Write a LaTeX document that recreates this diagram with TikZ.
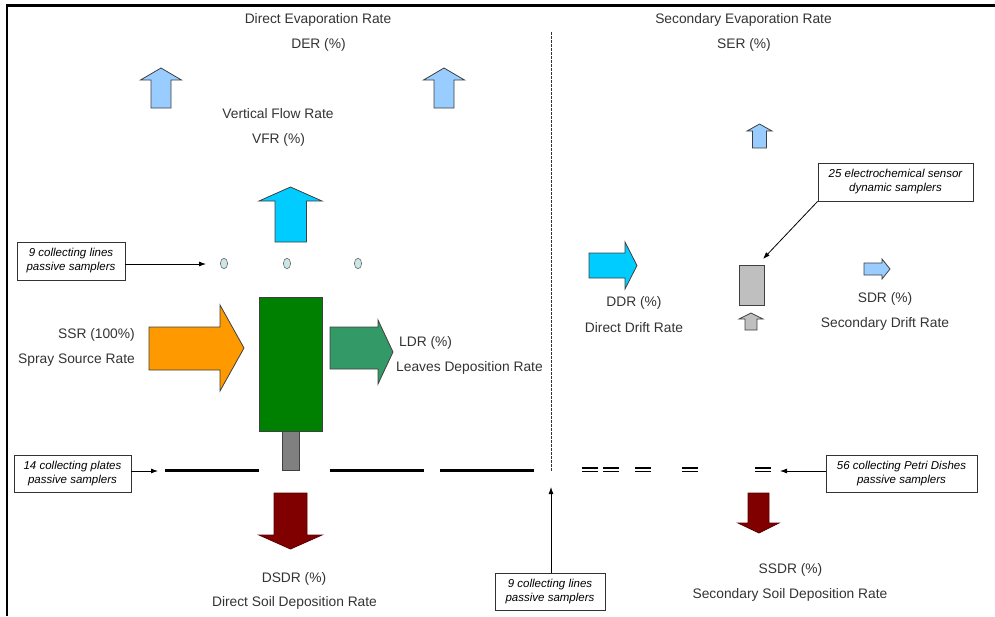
\documentclass[tikz,border=0pt]{standalone}
\usepackage{fontspec}
\setmainfont{Liberation Sans}
\usetikzlibrary{arrows.meta}
\usetikzlibrary{calc}

\definecolor{derblue}{RGB}{153,204,255}
\definecolor{vfrcyan}{RGB}{0,204,255}
\definecolor{ssrorange}{RGB}{255,153,0}
\definecolor{ldrgreen}{RGB}{51,153,102}
\definecolor{canopy}{RGB}{0,128,0}
\definecolor{soilred}{RGB}{128,0,0}
\definecolor{sampler}{RGB}{204,230,230}
\definecolor{txt}{RGB}{51,51,51}

\begin{document}
\begin{tikzpicture}[x=1pt, y=-1pt,
  flow/.style={draw=black!75, line width=0.8pt, line join=miter},
  lbl/.style={text=txt, font=\fontsize{13.8}{16}\selectfont, inner sep=0pt},
  callout/.style={draw=black!80, line width=0.8pt, fill=white, align=center,
    font=\fontsize{11.5}{14}\selectfont\itshape, inner sep=0pt},
  pointer/.style={black, line width=0.8pt, -{Latex[length=7pt,width=5pt]}}]
\useasboundingbox (0,0) rectangle (995,616);
\draw[line width=2.2pt] (6.7,616) -- (6.7,5.5) -- (995,5.5);

% titles
\node[lbl] (der-title) at (318,20) {Direct Evaporation Rate};
\node[lbl] (der) at (318.5,45) {DER (\%)};
\node[lbl] (ser-title) at (743.5,20) {Secondary Evaporation Rate};
\node[lbl] (ser) at (744,45) {SER (\%)};
\node[lbl] (vfr-title) at (278,114) {Vertical Flow Rate};
\node[lbl] (vfr) at (278.5,140) {VFR (\%)};

% evaporation arrows
\foreach \x in {161,444}
 \draw[flow, fill=derblue] (\x-10,108) -- (\x-10,80) -- (\x-20.5,80) -- (\x,68) -- (\x+20.5,80) -- (\x+10,80) -- (\x+10,108) -- cycle;
\draw[flow, fill=derblue] (752.5,148) -- (752.5,131) -- (747,131) -- (759.5,124) -- (772,131) -- (766.5,131) -- (766.5,148) -- cycle;
\draw[flow, fill=vfrcyan] (275,242) -- (275,201) -- (259,201) -- (290.5,187) -- (322,201) -- (306.5,201) -- (306.5,242) -- cycle;

% samplers on the lines
\foreach \x in {224,287,358}
 \draw[draw=black!60, fill=sampler, line width=0.6pt] (\x,263.5) ellipse (3.6pt and 5.3pt);

% tree
\draw[flow, fill=canopy] (259,297) rectangle (322,431);
\draw[flow, fill=black!50] (282,431) rectangle (299,470);

% source and leaves
\draw[flow, fill=ssrorange] (149,327) -- (220,327) -- (220,305) -- (244,348) -- (220,391) -- (220,370) -- (149,370) -- cycle;
\node[lbl, anchor=east] (ssr) at (135,335) {SSR (100\%)};
\node[lbl, anchor=east] (ssr-title) at (135,360) {Spray Source Rate};
\draw[flow, fill=ldrgreen] (330,327) -- (378,327) -- (378,320) -- (393,352) -- (378,384) -- (378,369) -- (330,369) -- cycle;
\node[lbl, anchor=west] (ldr) at (399,343) {LDR (\%)};
\node[lbl, anchor=west] (ldr-title) at (396,368) {Leaves Deposition Rate};

% drift side
\draw[flow, fill=vfrcyan] (589,253) -- (625,253) -- (625,242) -- (637,265.5) -- (625,289) -- (625,278) -- (589,278) -- cycle;
\node[lbl] (ddr) at (634,303) {DDR (\%)};
\node[lbl] (ddr-title) at (634,328) {Direct Drift Rate};
\draw[flow, fill=black!25] (739,265) rectangle (764,305);
\draw[flow, fill=black!25] (745,330) -- (745,319) -- (739,319) -- (751,313) -- (763,319) -- (757,319) -- (757,330) -- cycle;
\draw[flow, fill=derblue] (864,263) -- (882,263) -- (882,259) -- (890,269) -- (882,279) -- (882,275) -- (864,275) -- cycle;
\node[lbl] (sdr) at (885,299) {SDR (\%)};
\node[lbl] (sdr-title) at (885,324) {Secondary Drift Rate};

% ground
\draw[black!80, line width=0.6pt, dash pattern=on 2.5pt off 1.5pt] (551,32) -- (551,472);
\foreach \a/\b in {165/259, 330/424, 440/534}
 \draw[line width=3pt] (\a,470) -- (\b,470);
\foreach \a/\b in {582/598, 603/619, 635/651, 682/698, 755/771}
{
 \draw[line width=1.4pt] (\a,468) -- (\b,468);
 \draw[line width=1.4pt] (\a,471.5) -- (\b,471.5);
}

% soil deposition
\draw[draw=soilred!70!black, line width=0.8pt, fill=soilred] (274,493) -- (307,493) -- (307,535) -- (322,535) -- (290.5,549) -- (259,535) -- (274,535) -- cycle;
\node[lbl] (dsdr) at (294,579) {DSDR (\%)};
\node[lbl] (dsdr-title) at (294.5,603) {Direct Soil Deposition Rate};
\draw[draw=soilred!70!black, line width=0.8pt, fill=soilred] (748,493) -- (769,493) -- (769,523) -- (779,523) -- (759,533) -- (738,523) -- (748,523) -- cycle;
\node[lbl] (ssdr) at (790.5,570) {SSDR (\%)};
\node[lbl] (ssdr-title) at (790,595) {Secondary Soil Deposition Rate};

% callouts
\node[callout, minimum width=108, minimum height=38] (lines-a) at (71,261) {9 collecting lines\\passive samplers};
\coordinate (lines-a-tip) at (206,264);
\draw[pointer] (lines-a.east |- lines-a-tip) -- (lines-a-tip);

\node[callout, minimum width=117, minimum height=37] (plates) at (72.5,473.5) {14 collecting plates\\passive samplers};
\coordinate (plates-tip) at (158,471);
\draw[pointer] (plates.east |- plates-tip) -- (plates-tip);

\node[callout, minimum width=110, minimum height=37] (lines-b) at (550,591.5) {9 collecting lines\\passive samplers};
\coordinate (lines-b-tip) at (551,487);
\draw[pointer] (lines-b.north -| lines-b-tip) -- (lines-b-tip);

\node[callout, minimum width=155, minimum height=38] (sensor) at (895.5,182) {25 electrochemical sensor\\dynamic samplers};
\coordinate (sensor-tip) at (763,259);
\draw[pointer] (sensor.south west) -- (sensor-tip);

\node[callout, minimum width=151, minimum height=37] (petri) at (901.5,473.5) {56 collecting Petri Dishes\\passive samplers};
\coordinate (petri-tip) at (780,471);
\draw[pointer] (petri.west |- petri-tip) -- (petri-tip);

\end{tikzpicture}
\end{document}
